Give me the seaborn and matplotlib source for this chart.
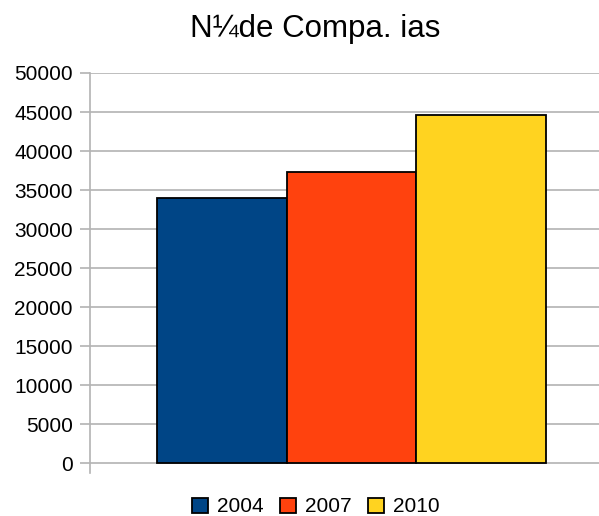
import matplotlib
matplotlib.use("Agg")
import matplotlib.pyplot as plt
import seaborn as sns
import pandas as pd

title = "N¼de Compa. ias"
years = ["2004", "2007", "2010"]
values = [34000, 37300, 44600]
colors = ["#004586", "#ff420e", "#ffd320"]
yticks = [0, 5000, 10000, 15000, 20000, 25000, 30000, 35000, 40000, 45000, 50000]

sns.set_style("white")
plt.rcParams["font.family"] = ["Liberation Sans", "DejaVu Sans"]
plt.rcParams["text.color"] = "black"
plt.rcParams["axes.labelcolor"] = "black"
plt.rcParams["ytick.labelcolor"] = "black"

df = pd.DataFrame({"cat": [""] * len(years), "year": years, "value": values})

W, H = 599, 516
fig = plt.figure(figsize=(W / 100, H / 100), dpi=100)
ax = fig.add_axes([90 / W, 1 - 473 / H, (599 - 90) / W, 400 / H])

sns.barplot(data=df, x="cat", y="value", hue="year", palette=colors,
            hue_order=years, width=0.8, edgecolor="black", linewidth=1.3,
            saturation=1, ax=ax, legend=True, zorder=3)

ax.set_xlim(-0.538, 0.509)
ax.set_ylim(-1282, 50000)
ax.set_yticks(yticks)
ax.set_yticklabels([str(v) for v in yticks], fontsize=15, color="black")
ax.yaxis.grid(True, color="#b3b3b3", linewidth=1.2, zorder=0)
ax.set_axisbelow(True)
ax.set_xticks([])
ax.set_xlabel("")
ax.set_ylabel("")
for s in ["top", "right", "bottom"]:
    ax.spines[s].set_visible(False)
ax.spines["left"].set_color("#b3b3b3")
ax.spines["left"].set_linewidth(1.2)
ax.tick_params(axis="y", direction="out", length=7.5, width=1.2, color="#b3b3b3",
               pad=5, labelcolor="black", left=True)

sns.move_legend(ax, loc="center", bbox_to_anchor=(316 / W, 1 - 507 / H),
                bbox_transform=fig.transFigure, ncol=3, frameon=False, title=None,
                fontsize=15, handlelength=0.75, handleheight=0.75,
                handletextpad=0.45, columnspacing=0.8)
for t in ax.get_legend().get_texts():
    t.set_color("black")

fig.text(315 / W, 1 - 29 / H, title, ha="center", va="center", fontsize=22.5,
         color="black")

fig.savefig("out.png", dpi=100)
